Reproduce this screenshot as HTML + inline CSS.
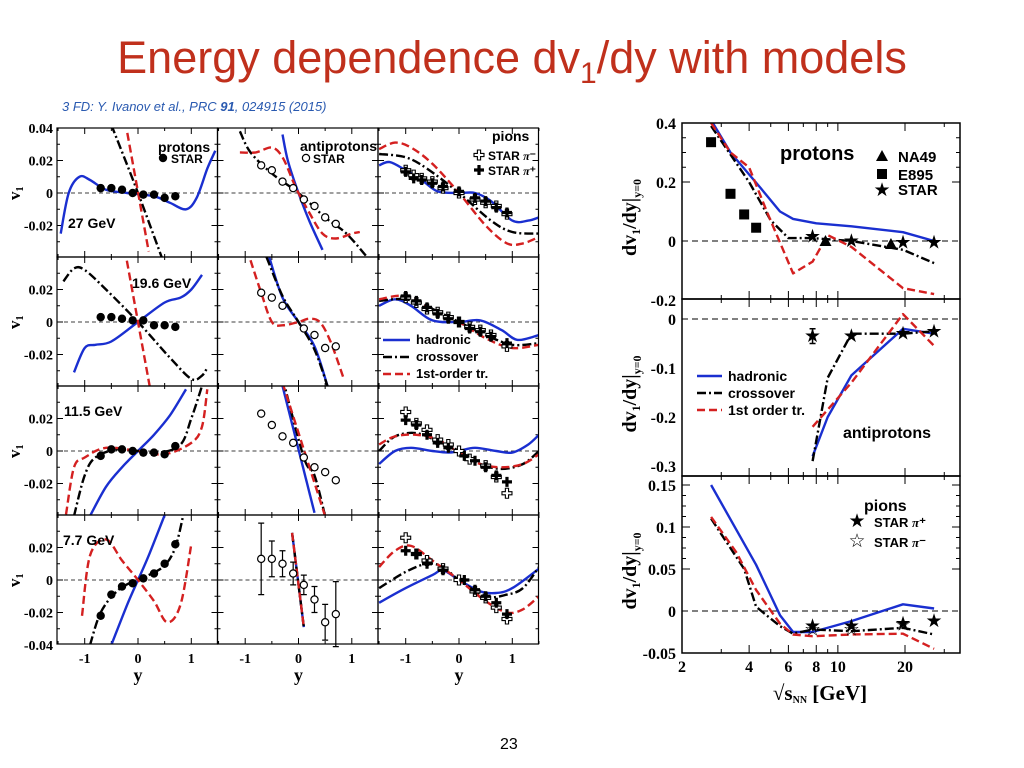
<!DOCTYPE html>
<html><head><meta charset="utf-8"><style>
body{margin:0;background:#fff;width:1024px;height:768px;overflow:hidden;font-family:"Liberation Sans",sans-serif}
#title{position:absolute;left:0;top:32px;width:1024px;text-align:center;font-size:45px;color:#c0301c}
#sub{position:absolute;left:62px;top:99px;font-size:13px;font-style:italic;color:#2a5ab0}
#pg{position:absolute;left:500px;top:736px;font-size:16px}
svg{position:absolute;left:0;top:0}
</style></head><body>
<div id="title">Energy dependence dv<sub style="font-size:30px">1</sub>/dy with models</div>
<div id="sub">3 FD: Y. Ivanov et al., PRC <b>91</b>, 024915 (2015)</div>
<div id="pg">23</div>
<svg id="s" width="1024" height="768"></svg>
<script>
// ---- Left grid data: [rapidity y, v1] ----
const p27_had=[[-1.45,-0.025],[-1.3,0],[-1.1,0.01],[-0.9,0.008],[-0.6,0.002],[-0.2,0],[0.3,-0.002],[0.6,-0.006],[0.9,-0.01],[1.1,-0.003],[1.3,0.015],[1.45,0.026]];
const p27_cro=[[-0.5,0.042],[0,0],[0.45,-0.04]];
const p27_fo=[[-0.2,0.037],[0.2,-0.036]];
const p27_star=[[-0.7,0.003],[-0.5,0.003],[-0.3,0.002],[-0.1,0],[0.1,-0.001],[0.3,-0.001],[0.5,-0.003],[0.7,-0.002]];
const a27_had=[[-0.3,0.036],[-0.2,0.02],[0,0],[0.2,-0.017],[0.45,-0.035]];
const a27_cro=[[-1.1,0.038],[-0.9,0.025],[-0.5,0.012],[0,0],[0.5,-0.015],[0.9,-0.025],[1.3,-0.04]];
const a27_fo=[[-1.1,0.025],[-0.8,0.025],[-0.5,0.028],[-0.3,0.022],[-0.1,0.007],[0,0],[0.2,-0.012],[0.45,-0.025],[0.7,-0.028],[1.0,-0.025],[1.15,-0.024]];
const a27_star=[[-0.7,0.017],[-0.5,0.014],[-0.3,0.007],[-0.1,0.003],[0.1,-0.004],[0.3,-0.008],[0.5,-0.015],[0.7,-0.019]];
const pi27_had=[[-1.5,0.017],[-1.3,0.019],[-1,0.014],[-0.7,0.008],[-0.4,0.001],[0,0],[0.3,0],[0.6,-0.005],[1,-0.017],[1.3,-0.017],[1.5,-0.015]];
const pi27_cro=[[-1.5,0.024],[-1,0.022],[-0.6,0.015],[0,0],[0.6,-0.017],[1,-0.024],[1.5,-0.025]];
const pi27_fo=[[-1.5,0.027],[-1.2,0.031],[-0.9,0.028],[-0.5,0.018],[0,0],[0.5,-0.02],[0.9,-0.031],[1.2,-0.031],[1.5,-0.027]];
const pi27_m=[[-1,0.014],[-0.85,0.011],[-0.7,0.009],[-0.5,0.007],[-0.3,0.003],[0,0],[0.3,-0.004],[0.5,-0.006],[0.7,-0.008],[0.9,-0.013]];
const pi27_p=[[-1,0.013],[-0.85,0.009],[-0.7,0.008],[-0.5,0.006],[-0.3,0.004],[0,0.001],[0.3,-0.003],[0.5,-0.005],[0.7,-0.009],[0.9,-0.012]];
const p19_had=[[-1.2,-0.031],[-1,-0.016],[-0.8,-0.014],[-0.5,-0.012],[0,0],[0.5,0.012],[0.8,0.015],[1,0.02],[1.2,0.029]];
const p19_cro=[[-1.4,0.025],[-1.2,0.033],[-1,0.032],[-0.6,0.02],[0,0],[0.6,-0.022],[1,-0.035],[1.2,-0.033],[1.3,-0.028]];
const p19_fo=[[-0.25,0.045],[0.25,-0.045]];
const p19_star=[[-0.7,0.003],[-0.5,0.003],[-0.3,0.002],[-0.1,0.001],[0.1,0.001],[0.3,-0.002],[0.5,-0.002],[0.7,-0.003]];
const a19_had=[[-0.55,0.04],[-0.3,0.015],[0,0],[0.3,-0.015],[0.55,-0.04]];
const a19_cro=[[-0.6,0.04],[-0.3,0.016],[0,0],[0.3,-0.017],[0.55,-0.04]];
const a19_fo=[[-0.9,0.038],[-0.7,0.018],[-0.5,0],[-0.3,-0.002],[0,0],[0.2,0.002],[0.4,0],[0.6,-0.012],[0.85,-0.035]];
const a19_star=[[-0.7,0.018],[-0.5,0.015],[-0.3,0.01],[0.1,-0.004],[0.3,-0.008],[0.5,-0.016],[0.7,-0.015]];
const pi19_had=[[-1.5,0.01],[-1.2,0.014],[-0.9,0.01],[-0.5,0.001],[0,0],[0.4,0.001],[0.8,-0.005],[1.1,-0.011],[1.5,-0.008]];
const pi19_cro=[[-1.5,0.013],[-1,0.014],[-0.5,0.008],[0,0],[0.5,-0.008],[1,-0.014],[1.5,-0.013]];
const pi19_fo=[[-1.5,0.014],[-1,0.016],[-0.5,0.008],[0,0],[0.5,-0.01],[1,-0.016],[1.5,-0.014]];
const pi19_m=[[-1,0.015],[-0.8,0.012],[-0.6,0.008],[-0.4,0.006],[-0.2,0.003],[0,0],[0.2,-0.003],[0.4,-0.005],[0.6,-0.008],[0.9,-0.015]];
const pi19_p=[[-1,0.016],[-0.8,0.013],[-0.6,0.009],[-0.4,0.005],[-0.2,0.002],[0,0],[0.2,-0.004],[0.4,-0.006],[0.6,-0.009],[0.9,-0.013]];
const p11_had=[[-0.9,-0.04],[-0.6,-0.022],[-0.3,-0.01],[0,0],[0.3,0.01],[0.6,0.022],[0.9,0.038]];
const p11_cro=[[-1.2,-0.04],[-1,-0.015],[-0.8,-0.004],[-0.4,0.001],[0,0],[0.4,-0.001],[0.8,0.004],[1,0.02],[1.2,0.04]];
const p11_fo=[[-1.35,-0.039],[-1.2,-0.01],[-1,-0.004],[-0.6,0.002],[0,0],[0.5,-0.002],[1,0.005],[1.2,0.015],[1.3,0.038]];
const p11_star=[[-0.7,-0.003],[-0.5,0.001],[-0.3,0.001],[-0.1,0],[0.1,-0.001],[0.3,-0.001],[0.5,-0.002],[0.7,0.003]];
const a11_had=[[-0.3,0.04],[0.3,-0.038]];
const a11_cro=[[-0.3,0.045],[0.1,-0.004],[0.3,-0.015],[0.5,-0.04]];
const a11_fo=[[-0.3,0.042],[0.5,-0.04]];
const a11_star=[[-0.7,0.023],[-0.5,0.016],[-0.3,0.009],[-0.1,0.005],[0.1,-0.004],[0.3,-0.01],[0.5,-0.013],[0.7,-0.018]];
const pi11_had=[[-1.5,-0.008],[-1.2,0],[-0.9,0.002],[-0.5,0],[-0.2,-0.001],[0,0],[0.3,0.002],[0.7,0],[1,-0.001],[1.3,0.004],[1.5,0.01]];
const pi11_cro=[[-1.5,0],[-1.2,0.009],[-0.8,0.011],[-0.4,0.006],[0,0],[0.4,-0.008],[0.8,-0.011],[1.2,-0.008],[1.5,0]];
const pi11_fo=[[-1.5,0.004],[-1.2,0.009],[-0.8,0.01],[-0.4,0.007],[0,-0.001],[0.4,-0.008],[0.8,-0.01],[1.2,-0.008],[1.5,-0.002]];
const pi11_m=[[-1,0.024],[-0.8,0.017],[-0.6,0.013],[-0.4,0.007],[-0.2,0.004],[0,0],[0.2,-0.005],[0.5,-0.009],[0.7,-0.016],[0.9,-0.026]];
const pi11_p=[[-1,0.019],[-0.8,0.016],[-0.6,0.01],[-0.4,0.005],[-0.2,0.002],[0.1,-0.003],[0.3,-0.006],[0.5,-0.01],[0.7,-0.015],[0.9,-0.019]];
const p7_had=[[-0.5,-0.04],[-0.2,-0.015],[0,0],[0.2,0.015],[0.5,0.04]];
const p7_cro=[[-0.9,-0.04],[-0.7,-0.02],[-0.4,-0.007],[-0.1,-0.001],[0.2,0.003],[0.5,0.009],[0.7,0.02],[0.85,0.04]];
const p7_fo=[[-1.05,-0.022],[-0.9,0.015],[-0.6,0.025],[-0.3,0.012],[0,0],[0.3,-0.013],[0.55,-0.026],[0.8,-0.015],[1,0.022]];
const p7_star=[[-0.7,-0.022],[-0.5,-0.009],[-0.3,-0.004],[-0.1,-0.002],[0.1,0.001],[0.3,0.004],[0.5,0.01],[0.7,0.022]];
const a7_line=[[-0.12,0.029],[0.1,-0.029]];
const a7_star=[[-0.7,0.013],[-0.5,0.013],[-0.3,0.01],[-0.1,0.004],[0.1,-0.003],[0.3,-0.012],[0.5,-0.026],[0.7,-0.021]];
const a7_err=[0.022,0.011,0.008,0.007,0.006,0.008,0.011,0.02];
const pi7_had=[[-1.5,-0.014],[-1,-0.005],[-0.5,0.003],[-0.3,0.006],[0,0],[0.4,-0.007],[0.7,-0.008],[1,-0.005],[1.5,0.007]];
const pi7_cro=[[-1.5,-0.005],[-1,0.005],[-0.6,0.01],[-0.3,0.008],[0,0],[0.5,-0.01],[0.9,-0.009],[1.2,-0.005],[1.5,0.008]];
const pi7_fo=[[-1.5,0.008],[-1.2,0.018],[-0.9,0.021],[-0.5,0.012],[0,0],[0.5,-0.013],[0.9,-0.02],[1.2,-0.018],[1.5,-0.01]];
const pi7_m=[[-1,0.026],[-0.8,0.016],[-0.6,0.012],[-0.3,0.007],[0,0],[0.3,-0.007],[0.5,-0.011],[0.7,-0.017],[0.9,-0.024]];
const pi7_p=[[-1,0.018],[-0.8,0.016],[-0.6,0.01],[-0.3,0.006],[0.1,0],[0.3,-0.006],[0.5,-0.01],[0.7,-0.014],[0.9,-0.021]];
// ---- Right panels: [sqrt(sNN), dv1/dy] ----
const rp_had=[[2.7,0.41],[3.3,0.3],[4.5,0.18],[5.5,0.1],[6.3,0.075],[8,0.06],[11.5,0.05],[19.6,0.03],[27,0]];
const rp_cro=[[2.7,0.39],[4,0.2],[5,0.07],[6,0.01],[7.7,0.01],[11.5,0],[19.6,-0.03],[27,-0.075]];
const rp_fo=[[2.7,0.4],[3.3,0.3],[4,0.25],[4.8,0.1],[6.3,-0.11],[7.7,-0.07],[9,0.02],[11.5,-0.02],[19.6,-0.16],[27,-0.18]];
const rp_e895=[[2.7,0.335],[3.3,0.16],[3.8,0.09],[4.3,0.045]];
const rp_na49=[[8.8,0],[17.3,-0.01]];
const rp_star=[[7.7,0.015],[11.5,0],[19.6,-0.005],[27,-0.005]];
const ra_had=[[7.7,-0.28],[9,-0.2],[11.5,-0.115],[19.6,-0.02],[27,-0.03]];
const ra_cro=[[7.7,-0.29],[9,-0.12],[11.5,-0.03],[19.6,-0.03],[27,-0.025]];
const ra_fo=[[7.7,-0.22],[11.5,-0.13],[19.6,0.01],[27,-0.055]];
const ra_star=[[7.7,-0.035],[11.5,-0.035],[19.6,-0.03],[27,-0.025]];
const ra_err=[0.015,0,0,0];
const rpi_had=[[2.7,0.15],[4.3,0.055],[5.5,-0.005],[6.3,-0.025],[7.7,-0.025],[11.5,-0.012],[19.6,0.008],[27,0.003]];
const rpi_cro=[[2.7,0.11],[3.8,0.05],[4.3,0.005],[5.5,-0.018],[6.3,-0.027],[7.7,-0.022],[11.5,-0.024],[19.6,-0.02],[27,-0.028]];
const rpi_fo=[[2.7,0.112],[3.5,0.07],[4.3,0.025],[5.5,-0.015],[6.3,-0.028],[7.7,-0.03],[11.5,-0.028],[19.6,-0.027],[27,-0.045]];
const rpi_p=[[7.7,-0.018],[11.5,-0.018],[19.6,-0.015],[27,-0.012]];
const rpi_m=[[7.7,-0.022],[11.5,-0.022],[19.6,-0.016]];
const xTicksS=[2,4,6,8,10,20];

const S=document.getElementById('s');const NS='http://www.w3.org/2000/svg';
function mk(t,a,p){const e=document.createElementNS(NS,t);for(const k in a)e.setAttribute(k,a[k]);(p||S).appendChild(e);return e;}
const STY={had:{stroke:'#1a2fd0',da:''},cro:{stroke:'#000',da:'9,3,2,3'},fo:{stroke:'#d42020',da:'8,4'}};
let clipN=0;
function clip(x,y,w,h){const id='c'+(clipN++);const c=mk('clipPath',{id:id});mk('rect',{x:x,y:y,width:w,height:h},c);return 'url(#'+id+')';}
function pathD(P,smooth){
 if(!smooth||P.length<3)return P.map((p,i)=>(i?'L':'M')+p[0].toFixed(1)+','+p[1].toFixed(1)).join('');
 let d='M'+P[0][0].toFixed(1)+','+P[0][1].toFixed(1);
 for(let i=0;i<P.length-1;i++){const p0=P[Math.max(0,i-1)],p1=P[i],p2=P[i+1],p3=P[Math.min(P.length-1,i+2)];
  const c1=[p1[0]+(p2[0]-p0[0])/6,p1[1]+(p2[1]-p0[1])/6],c2=[p2[0]-(p3[0]-p1[0])/6,p2[1]-(p3[1]-p1[1])/6];
  d+='C'+c1[0].toFixed(1)+','+c1[1].toFixed(1)+' '+c2[0].toFixed(1)+','+c2[1].toFixed(1)+' '+p2[0].toFixed(1)+','+p2[1].toFixed(1);}
 return d;}
function line(pts,sx,sy,k,cp,name,smooth){const d=pathD(pts.map(p=>[sx(p[0]),sy(p[1])]),smooth);
 const e=mk('path',{d:d,fill:'none',stroke:STY[k].stroke,'stroke-width':2.4,'stroke-dasharray':STY[k].da,'clip-path':cp,'stroke-linejoin':'round'});
 
 }
function marker(type,x,y,name){let e;
 if(type==='dot')e=mk('circle',{cx:x,cy:y,r:4.2,fill:'#000'});
 else if(type==='ring')e=mk('circle',{cx:x,cy:y,r:3.6,fill:'#fff',stroke:'#000','stroke-width':1.2});
 else if(type==='cross')e=mk('path',{d:`M${x-1.6},${y-5}h3.2v3.4h3.4v3.2h-3.4v3.4h-3.2v-3.4h-3.4v-3.2h3.4z`,fill:'#000'});
 else if(type==='ocross')e=mk('path',{d:`M${x-1.6},${y-5}h3.2v3.4h3.4v3.2h-3.4v3.4h-3.2v-3.4h-3.4v-3.2h3.4z`,fill:'#fff',stroke:'#000','stroke-width':1.1});
 else if(type==='sq')e=mk('rect',{x:x-5,y:y-5,width:10,height:10,fill:'#000'});
 else if(type==='tri')e=mk('path',{d:`M${x},${y-6}L${x+6},${y+5}L${x-6},${y+5}Z`,fill:'#000'});
 else {e=mk('text',{x:x,y:y+6,'font-size':19,'text-anchor':'middle',fill:'#000'});e.textContent=type==='star'?'★':'☆';}
 
 }
function txt(x,y,s,o,name){const e=mk('text',Object.assign({x:x,y:y,'font-family':'Liberation Sans, sans-serif','font-weight':'bold','font-size':13},o||{}));e.innerHTML=s;
 
 return e;}

// ---------- Left grid ----------
const L0=57,CW=160.5,T0=128,RH=129;
const panels=[
 [[p27_had,p27_cro,p27_fo,p27_star,'dot'],[a27_had,a27_cro,a27_fo,a27_star,'ring'],[pi27_had,pi27_cro,pi27_fo,pi27_m,pi27_p]],
 [[p19_had,p19_cro,p19_fo,p19_star,'dot'],[a19_had,a19_cro,a19_fo,a19_star,'ring'],[pi19_had,pi19_cro,pi19_fo,pi19_m,pi19_p]],
 [[p11_had,p11_cro,p11_fo,p11_star,'dot'],[a11_had,a11_cro,a11_fo,a11_star,'ring'],[pi11_had,pi11_cro,pi11_fo,pi11_m,pi11_p]],
 [[p7_had,p7_cro,p7_fo,p7_star,'dot'],[a7_line,a7_line,a7_line,a7_star,'ring'],[pi7_had,pi7_cro,pi7_fo,pi7_m,pi7_p]]];
for(let r=0;r<4;r++)for(let c=0;c<3;c++){
 const left=L0+CW*c,top=T0+RH*r;
 const sx=v=>left+81+v*53.3, sy=v=>top+65-v*1625;
 const cp=clip(left,top,CW,RH);
 const g=mk('line',{x1:left,x2:left+CW,y1:sy(0),y2:sy(0),stroke:'#000','stroke-width':0.8,'stroke-dasharray':'4,3'});
 
 
 for(let v=-0.03;v<0.035;v+=0.01){const y=sy(v);const maj=Math.abs(Math.round(v*100))%2===0;
  mk('line',{x1:left,x2:left+(maj?6:3),y1:y,y2:y,stroke:'#000'});mk('line',{x1:left+CW,x2:left+CW-(maj?6:3),y1:y,y2:y,stroke:'#000'});}
 for(let v=-1.5;v<=1.5;v+=0.5){const x=sx(v);const maj=Math.abs(v%1)<0.01;
  mk('line',{x1:x,x2:x,y1:top,y2:top+(maj?6:3),stroke:'#000'});mk('line',{x1:x,x2:x,y1:top+RH,y2:top+RH-(maj?6:3),stroke:'#000'});}
 const P=panels[r][c];
 line(P[0],sx,sy,'had',cp,'hadronic-curve',true);line(P[1],sx,sy,'cro',cp,'crossover-curve',true);line(P[2],sx,sy,'fo',cp,'first-order-curve',true);
 if(c<2){if(r===3&&c===1)a7_star.forEach((p,i)=>{const e=mk('path',{d:`M${sx(p[0])},${sy(p[1]+a7_err[i])}v${a7_err[i]*3250}M${sx(p[0])-3},${sy(p[1]+a7_err[i])}h6M${sx(p[0])-3},${sy(p[1]-a7_err[i])}h6`,stroke:'#000','stroke-width':1.2,fill:'none'});
   
   });
  P[3].forEach(p=>marker(P[4],sx(p[0]),sy(p[1]),c?'antiproton-point':'proton-point'));}
 else{P[3].forEach(p=>marker('ocross',sx(p[0]),sy(p[1]),'pi-minus-point'));P[4].forEach(p=>marker('cross',sx(p[0]),sy(p[1]),'pi-plus-point'));}
 const f=mk('rect',{x:left,y:top,width:CW,height:RH,fill:'none',stroke:'#000','stroke-width':1.2});
 
 
 if(c===0){[0.04,0.02,0,-0.02,-0.04].forEach(v=>{if((v===0.04&&r!==0)||(v===-0.04&&r!==3))return;
   txt(left-4,sy(v)+5,v===0?'0':String(v),{'text-anchor':'end','font-family':'Liberation Serif, serif','font-size':14},'y-tick-label');});
  txt(0,0,'v<tspan font-size="10" dy="3">1</tspan>',{'font-family':'Liberation Serif, serif','font-size':17,transform:`translate(20,${top+72}) rotate(-90)`},'y-axis-title');}
 if(r===3){[-1,0,1].forEach(v=>txt(sx(v),top+RH+19,String(v),{'text-anchor':'middle','font-family':'Liberation Serif, serif','font-size':14},'x-tick-label'));
  txt(sx(0),top+RH+37,'y',{'text-anchor':'middle','font-family':'Liberation Serif, serif','font-size':18},'x-axis-title');}
}
txt(158,152,'protons',{'font-size':14},'panel-label');marker('dot',163,158,'legend-star-marker');txt(171,163,'STAR',{'font-size':12},'legend-star');
txt(300,151,'antiprotons',{'font-size':14},'panel-label');marker('ring',306,158,'legend-star-marker');txt(313,163,'STAR',{'font-size':12},'legend-star');
txt(492,141,'pions',{'font-size':14},'panel-label');marker('ocross',479,155,'legend-pim');txt(488,160,'STAR <tspan font-style="italic" font-family="Liberation Serif">π</tspan>⁻',{'font-size':12},'legend-pim');
marker('cross',479,170,'legend-pip');txt(488,175,'STAR <tspan font-style="italic" font-family="Liberation Serif">π</tspan>⁺',{'font-size':12},'legend-pip');
txt(68,228,'27 GeV',{'font-size':14},'energy-label');txt(132,288,'19.6 GeV',{'font-size':14},'energy-label');txt(64,416,'11.5 GeV',{'font-size':14},'energy-label');txt(63,545,'7.7 GeV',{'font-size':14},'energy-label');
[['had','hadronic',344],['cro','crossover',361],['fo','1st-order tr.',378]].forEach(a=>{const e=mk('line',{x1:383,x2:410,y1:a[2]-4,y2:a[2]-4,stroke:STY[a[0]].stroke,'stroke-width':2.4,'stroke-dasharray':STY[a[0]].da});
 
 
 txt(416,a[2],a[1],{},'legend-entry');});

// ---------- Right panels ----------
const RX0=682,RX1=960;const rsx=s=>RX0+223*Math.log10(s/2);
const rpanels=[
 {top:123,bot:299,zero:241,k:295,ticks:[0.4,0.2,0,-0.2],minor:0.05,ser:[rp_had,rp_cro,rp_fo]},
 {top:299,bot:476,zero:319,k:490,ticks:[0,-0.1,-0.2,-0.3],minor:0.025,ser:[ra_had,ra_cro,ra_fo]},
 {top:476,bot:653,zero:611,k:840,ticks:[0.15,0.1,0.05,0,-0.05],minor:0.0125,ser:[rpi_had,rpi_cro,rpi_fo]}];
rpanels.forEach((P,i)=>{const sy=v=>P.zero-v*P.k;const cp=clip(RX0,P.top,RX1-RX0,P.bot-P.top);
 const z=mk('line',{x1:RX0,x2:RX1,y1:sy(0),y2:sy(0),stroke:'#000','stroke-width':1,'stroke-dasharray':'6,4'});
 
 
 const vmin=(P.zero-P.bot)/-P.k,vmax=(P.zero-P.top)/P.k;
 for(let v=Math.ceil(vmin/P.minor)*P.minor;v<=vmax+1e-9;v+=P.minor){const y=sy(v);const maj=P.ticks.some(t=>Math.abs(t-v)<1e-6);
  mk('line',{x1:RX0,x2:RX0+(maj?8:4),y1:y,y2:y,stroke:'#000'});mk('line',{x1:RX1,x2:RX1-(maj?8:4),y1:y,y2:y,stroke:'#000'});}
 [2,3,4,5,6,7,8,9,10,20,30].forEach(s=>{const x=rsx(s);const maj=xTicksS.includes(s);
  mk('line',{x1:x,x2:x,y1:P.bot,y2:P.bot-(maj?8:4),stroke:'#000'});mk('line',{x1:x,x2:x,y1:P.top,y2:P.top+(maj?8:4),stroke:'#000'});});
 line(P.ser[0],rsx,sy,'had',cp,'hadronic-curve',false);line(P.ser[1],rsx,sy,'cro',cp,'crossover-curve',false);line(P.ser[2],rsx,sy,'fo',cp,'first-order-curve',false);
 P.ticks.forEach(v=>txt(RX0-6,sy(v)+6,String(v),{'text-anchor':'end','font-family':'Liberation Serif, serif','font-size':16},'y-tick-label'));
 txt(0,0,'dv<tspan font-size="12" dy="4">1</tspan><tspan dy="-4">/dy|</tspan><tspan font-size="12" dy="5">y=0</tspan>',{'font-family':'Liberation Serif, serif','font-size':20,transform:`translate(636,${(P.top+P.bot)/2+45}) rotate(-90)`},'y-axis-title');
 const f=mk('rect',{x:RX0,y:P.top,width:RX1-RX0,height:P.bot-P.top,fill:'none',stroke:'#000','stroke-width':1.5});
 
 
 P.sy=sy;});
rp_e895.forEach(p=>marker('sq',rsx(p[0]),rpanels[0].sy(p[1]),'e895-point'));
rp_na49.forEach(p=>marker('tri',rsx(p[0]),rpanels[0].sy(p[1]),'na49-point'));
rp_star.forEach(p=>marker('star',rsx(p[0]),rpanels[0].sy(p[1]),'star-point'));
ra_star.forEach((p,i)=>{if(ra_err[i]){const y1=rpanels[1].sy(p[1]+ra_err[i]),y2=rpanels[1].sy(p[1]-ra_err[i]),x=rsx(p[0]);
 const e=mk('path',{d:`M${x},${y1}V${y2}M${x-3},${y1}h6M${x-3},${y2}h6`,stroke:'#000','stroke-width':1.5});
 
 }
 marker('star',rsx(p[0]),rpanels[1].sy(p[1]),'star-point');});
rpi_p.forEach(p=>marker('star',rsx(p[0]),rpanels[2].sy(p[1]),'pi-plus-point'));
rpi_m.forEach(p=>marker('ostar',rsx(p[0]),rpanels[2].sy(p[1]),'pi-minus-point'));
xTicksS.forEach(s=>txt(rsx(s),672,String(s),{'text-anchor':'middle','font-family':'Liberation Serif, serif','font-size':16},'x-tick-label'));
txt(820,700,'√s<tspan font-size="10" dy="3">NN</tspan><tspan dy="-3"> [GeV]</tspan>',{'text-anchor':'middle','font-family':'Liberation Serif, serif','font-size':21},'x-axis-title');
txt(780,160,'protons',{'font-size':20},'panel-label');
marker('tri',882,156,'legend-na49');txt(898,162,'NA49',{'font-size':15},'legend-na49');
marker('sq',882,174,'legend-e895');txt(898,180,'E895',{'font-size':15},'legend-e895');
marker('star',882,190,'legend-star');txt(898,195,'STAR',{'font-size':15},'legend-star');
[['had','hadronic',381],['cro','crossover',398],['fo','1st order tr.',415]].forEach(a=>{const e=mk('line',{x1:697,x2:722,y1:a[2]-5,y2:a[2]-5,stroke:STY[a[0]].stroke,'stroke-width':2.4,'stroke-dasharray':STY[a[0]].da});
 
 
 txt(728,a[2],a[1],{'font-size':14},'legend-entry');});
txt(843,438,'antiprotons',{'font-size':16},'panel-label');
txt(864,511,'pions',{'font-size':16},'panel-label');
marker('star',857,521,'legend-pip');txt(874,527,'STAR <tspan font-style="italic" font-family="Liberation Serif">π</tspan>⁺',{'font-size':13},'legend-pip');
marker('ostar',857,541,'legend-pim');txt(874,547,'STAR <tspan font-style="italic" font-family="Liberation Serif">π</tspan>⁻',{'font-size':13},'legend-pim');
</script>
</body></html>
